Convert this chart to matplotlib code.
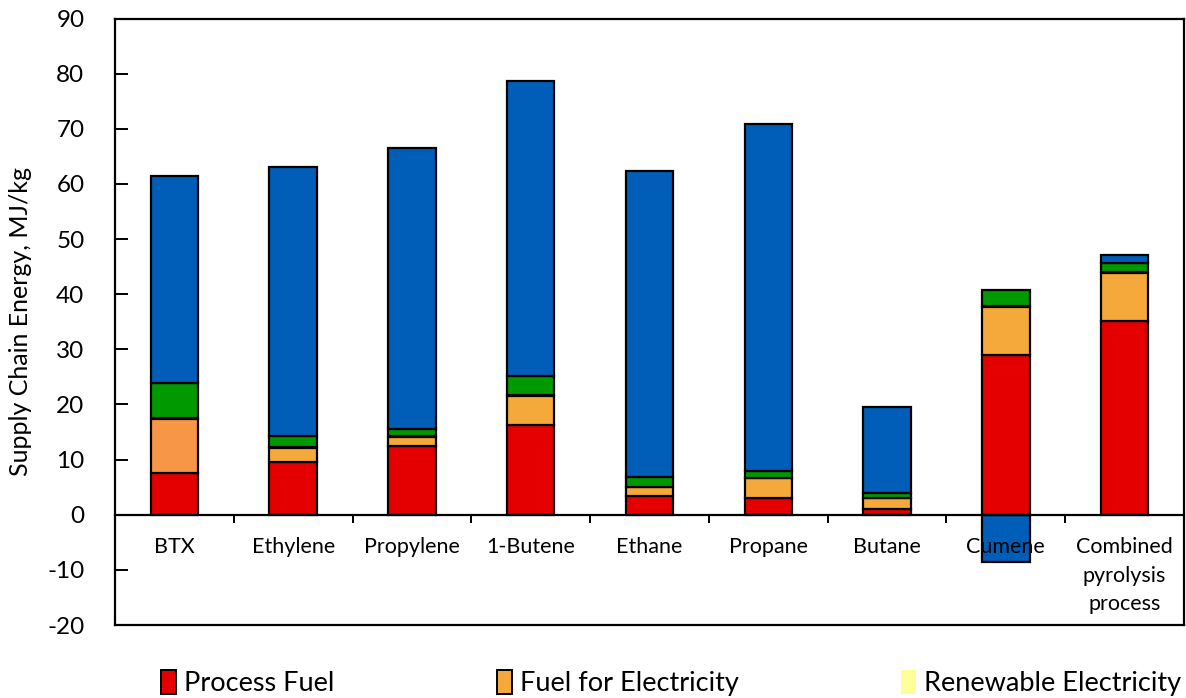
import matplotlib
matplotlib.use("Agg")
import matplotlib.pyplot as plt
from matplotlib.patches import Patch
from matplotlib.lines import Line2D
import numpy as np

plt.rcParams["font.family"] = ["Lato", "DejaVu Sans"]
plt.rcParams["axes.unicode_minus"] = False

categories = ["BTX", "Ethylene", "Propylene", "1-Butene", "Ethane",
              "Propane", "Butane", "Cumene", "Combined\npyrolysis\nprocess"]

process_fuel = [7.6, 9.5, 12.4, 16.2, 3.4, 3.1, 1.0, 29.0, 35.2]
fuel_for_electricity = [9.7, 2.6, 1.7, 5.3, 1.6, 3.5, 2.0, 8.6, 8.6]
renewable_electricity = [0.3, 0.1, 0.1, 0.2, 0.1, 0.1, 0.1, 0.3, 0.3]
green_component = [6.3, 2.1, 1.4, 3.5, 1.7, 1.2, 0.9, 2.8, 1.5]
blue_component = [37.5, 48.8, 51.0, 53.5, 55.6, 63.0, 15.6, -8.6, 1.5]

series = [
    ("Process Fuel", process_fuel, "#E50000", "black"),
    ("Fuel for Electricity", fuel_for_electricity, "#F4A93A", "black"),
    ("Renewable Electricity", renewable_electricity, "#FFFF99", "none"),
    (None, green_component, "#009A00", "black"),
    (None, blue_component, "#005EB8", "black"),
]

fig = plt.figure(figsize=(11.86, 6.98), dpi=100)
ax = fig.add_axes([115 / 1186, 1 - 625 / 698, 1069 / 1186, 606.5 / 698])

x = np.arange(len(categories))
width = 0.4
pos_base = np.zeros(len(categories))
neg_base = np.zeros(len(categories))

for name, vals, color, edge in series:
    vals = np.array(vals, dtype=float)
    bottoms = np.where(vals >= 0, pos_base, neg_base)
    colors = [color] * len(vals)
    if name == "Fuel for Electricity":
        colors[0] = "#F79646"
    ax.bar(x, vals, width, bottom=bottoms, color=colors,
           edgecolor=edge, linewidth=1.6 if edge != "none" else 0, zorder=2)
    pos_base += np.where(vals >= 0, vals, 0)
    neg_base += np.where(vals < 0, vals, 0)

ax.set_xlim(-0.5, len(categories) - 0.5)
ax.set_ylim(-20, 90)
ax.set_yticks(np.arange(-20, 91, 10))
ax.tick_params(axis="y", direction="in", length=9, width=1.4, labelsize=17.5, pad=22)

# Category axis drawn along the zero line, with ticks between the categories
ax.spines["bottom"].set_position(("data", 0))
ax.set_xticks(np.arange(0.5, len(categories) - 1, 1.0))
ax.set_xticklabels([])
ax.tick_params(axis="x", direction="out", length=6, width=1.4)
for s in ax.spines.values():
    s.set_linewidth(1.6)
ax.add_line(Line2D([0, 1], [0, 0], transform=ax.transAxes, color="black",
                   linewidth=1.6, clip_on=False))

for xi, lab in zip(x, categories):
    ax.text(xi, -4.0, lab, ha="center", va="top", fontsize=15.5,
            linespacing=1.55, zorder=3)

ax.set_ylabel("Supply Chain Energy, MJ/kg", fontsize=18, labelpad=11)

handles = [Patch(facecolor=c, edgecolor=e, linewidth=1.4 if e != "none" else 0, label=n)
           for n, _, c, e in series if n is not None]
fig.legend(handles=handles, loc="center", bbox_to_anchor=(0.566, 1 - 683 / 698),
           ncol=3, frameon=False, fontsize=19.5, handlelength=0.55, handleheight=1.0,
           handletextpad=0.3, columnspacing=6.0)

fig.savefig("out.png", dpi=100)
